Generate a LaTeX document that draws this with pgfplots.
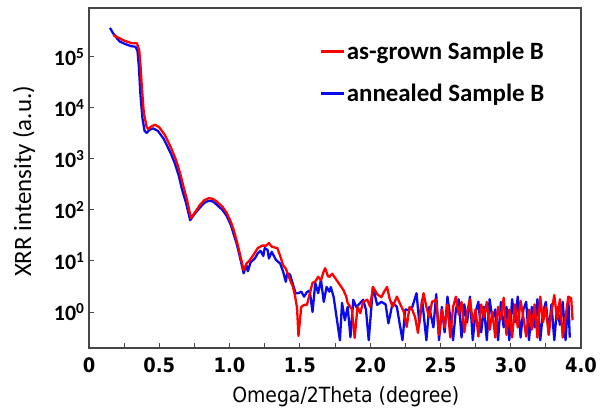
\documentclass[border=0pt]{standalone}
\usepackage{fontspec}
\setmainfont{Carlito}
\newfontfamily\gothic{DejaVu Sans Condensed}
\usepackage{pgfplots}
\usepackage{pgfplotstable}
\pgfplotsset{compat=1.18}
\definecolor{axgray}{RGB}{70,70,70}
\definecolor{xred}{RGB}{255,0,0}
\definecolor{xblue}{RGB}{10,10,235}

\pgfplotstableread{
x y
0.171 269000
0.20 245500
0.242 213800
0.27 199500
0.304 186200
0.34 186200
0.357 138000
0.366 70800
0.376 25700
0.39 7940
0.41 4270
0.42 3890
0.445 4370
0.47 4680
0.50 4170
0.54 2950
0.59 1510
0.62 933
0.647 537
0.67 302
0.697 158
0.725 69
0.76 95
0.79 126
0.82 155
0.85 170
0.88 166
0.91 145
0.95 115
0.98 87
1.01 57.5
1.03 39.8
1.05 25.1
1.07 15.1
1.10 6.6
1.12 8.9
1.145 10.5
1.17 13.2
1.20 17.8
1.23 20
1.26 20
1.28 22.4
1.30 19.1
1.34 17.8
1.36 12.6
1.38 8.3
1.40 7.1
1.43 4.27
1.45 3.16
1.465 2.14
1.48 1.20
1.49 0.34
1.51 1.26
1.53 1.38
1.55 1.38
1.57 2.24
1.59 3.72
1.61 3.98
1.63 4.9
1.65 4.17
1.67 6.31
1.68 7.24
1.70 5.01
1.71 4.9
1.73 5.62
1.76 4.27
1.78 3.55
1.81 2.69
1.83 2.0
1.84 1.51
1.87 1.12
1.89 0.31
1.91 1.26
1.93 0.95
1.95 1.58
1.98 1.74
2.00 1.26
2.02 3.09
2.05 2.24
2.08 1.95
2.10 2.51
2.12 3.09
2.14 1.78
2.16 1.26
2.19 2.0
2.21 1.51
2.24 1.0
2.26 0.51
2.28 1.26
2.30 1.10
2.32 0.79
2.34 0.39
2.36 1.12
2.38 2.34
2.40 1.26
2.42 0.79
2.44 1.58
2.47 1.74
2.49 0.355
2.51 1.12
2.53 0.50
2.55 1.41
2.57 0.316
2.59 1.26
2.61 2.0
2.63 0.89
2.65 1.58
2.67 0.40
2.69 1.0
2.71 1.78
2.73 0.63
2.75 1.12
2.77 0.33
2.79 1.41
2.81 0.79
2.83 1.58
2.85 0.45
2.87 1.0
2.89 0.316
2.91 1.26
2.93 0.71
2.95 1.91
2.97 0.355
2.99 1.12
3.01 0.316
3.03 1.41
3.05 0.50
3.07 1.66
3.09 0.79
3.11 0.33
3.13 1.12
3.15 0.45
3.17 1.41
3.19 0.316
3.21 2.0
3.23 0.63
3.25 1.26
3.27 0.355
3.29 1.0
3.31 2.14
3.33 0.71
3.35 1.78
3.37 0.316
3.39 0.79
3.41 2.0
3.43 1.86
3.44 0.69
}\asgrown

\pgfplotstableread{
x y
0.149 371500
0.17 295100
0.20 229100
0.22 199500
0.26 177800
0.30 162200
0.33 158500
0.345 131800
0.355 63100
0.365 19950
0.38 6310
0.395 3550
0.41 3240
0.43 3720
0.455 3980
0.49 3550
0.53 2510
0.58 1320
0.61 832
0.64 457
0.66 263
0.69 138
0.72 63
0.75 83
0.79 112
0.82 138
0.85 151
0.88 148
0.91 126
0.95 100
0.98 76
1.01 50
1.03 33
1.05 21.9
1.07 13.2
1.10 5.75
1.12 8.3
1.13 6.3
1.15 9.5
1.18 11.2
1.20 14.1
1.22 15.8
1.24 12.6
1.25 17.8
1.27 16.6
1.28 11.2
1.30 15.1
1.33 10.5
1.36 8.9
1.38 6.3
1.40 3.9
1.41 5.75
1.43 5.4
1.45 3.55
1.47 2.34
1.49 2.34
1.51 2.51
1.53 2.0
1.55 2.45
1.57 2.63
1.59 1.0
1.61 3.72
1.63 2.34
1.65 4.27
1.67 1.58
1.69 3.09
1.71 2.51
1.72 3.09
1.74 2.0
1.785 0.28
1.80 1.51
1.82 0.69
1.84 1.26
1.86 0.32
1.88 1.74
1.90 1.26
1.92 1.41
1.95 1.74
1.97 1.12
1.99 0.28
2.02 3.09
2.05 1.38
2.08 1.58
2.11 1.41
2.13 0.60
2.16 1.51
2.19 1.26
2.23 0.28
2.25 1.12
2.28 1.10
2.30 1.26
2.33 2.34
2.35 0.60
2.37 1.74
2.40 0.28
2.42 1.26
2.45 0.50
2.47 2.24
2.49 0.28
2.51 1.26
2.53 0.40
2.55 2.0
2.57 0.79
2.59 0.28
2.61 1.12
2.63 1.78
2.65 0.316
2.67 1.41
2.69 0.63
2.71 2.0
2.73 0.28
2.75 1.0
2.77 1.58
2.79 0.40
2.81 1.26
2.83 0.28
2.85 1.78
2.87 0.71
2.89 1.12
2.91 0.28
2.93 1.58
2.95 0.50
2.97 1.26
2.99 0.28
3.01 1.78
3.03 0.63
3.05 2.0
3.07 0.316
3.09 1.12
3.11 1.58
3.13 0.28
3.15 1.26
3.17 0.50
3.19 1.78
3.21 0.28
3.23 1.0
3.25 1.58
3.27 0.40
3.29 1.41
3.31 0.28
3.33 1.26
3.35 0.56
3.37 1.58
3.39 0.28
3.41 1.78
3.42 0.316
}\annealed

\begin{document}
\begin{tikzpicture}
\begin{axis}[
  scale only axis, width=492bp, height=340bp,
  xmin=0, xmax=3.5,
  ymode=log, ymin=0.197, ymax=9.1e5,
  axis line style={draw=axgray, line width=1.1bp},
  tick style={draw=axgray, line width=1bp},
  tick align=inside, tick pos=left,
  major tick length=5bp, minor tick length=5bp,
  xtick={0,0.5,...,3.5},
  xticklabels={0,0.5,1.0,1.5,2.0,2.5,3.0,4.0},
  minor xtick={0.25,0.75,...,3.25},
  ytick={1,10,100,1000,10000,100000},
  yticklabels={10\textsuperscript{0},10\textsuperscript{1},10\textsuperscript{2},10\textsuperscript{3},10\textsuperscript{4},10\textsuperscript{5}},
  yminorticks=false,
  xticklabel style={font=\gothic\bfseries\fontsize{20}{24}\selectfont, yshift=-6bp},
  yticklabel style={font=\bfseries\fontsize{22}{26}\selectfont, xshift=-1bp},
  xlabel={Omega/2Theta (degree)},
  xlabel style={font=\gothic\fontsize{21}{25}\selectfont, at={(axis description cs:0.522,-0.143)}, anchor=center},
  ylabel={XRR intensity (a.u.)},
  ylabel style={font=\fontsize{25}{29}\selectfont, at={(axis description cs:-0.132,0.49)}, anchor=center},
  legend style={draw=none, fill=none, at={(0.468,0.905)}, anchor=north west,
    font=\bfseries\fontsize{25}{30}\selectfont, row sep=19bp,
    inner sep=0pt, outer sep=0pt},
  legend cell align=left,
  legend image code/.code={\draw[#1, line width=2.6bp] (0bp,0bp) -- (23bp,0bp);},
]
\addlegendimage{xred}
\addlegendentry{as-grown Sample B}
\addlegendimage{xblue}
\addlegendentry{annealed Sample B}
\addplot[xblue, line width=2.3bp, line join=round, forget plot] table[x=x,y=y] {\annealed};
\addplot[xred, line width=2.3bp, line join=round, forget plot] table[x=x,y=y] {\asgrown};
\end{axis}
\pgfresetboundingbox
\path[use as bounding box] ([xshift=-89bp,yshift=-64bp]current axis.south west) rectangle ([xshift=21bp,yshift=8bp]current axis.north east);
\end{tikzpicture}
\end{document}
